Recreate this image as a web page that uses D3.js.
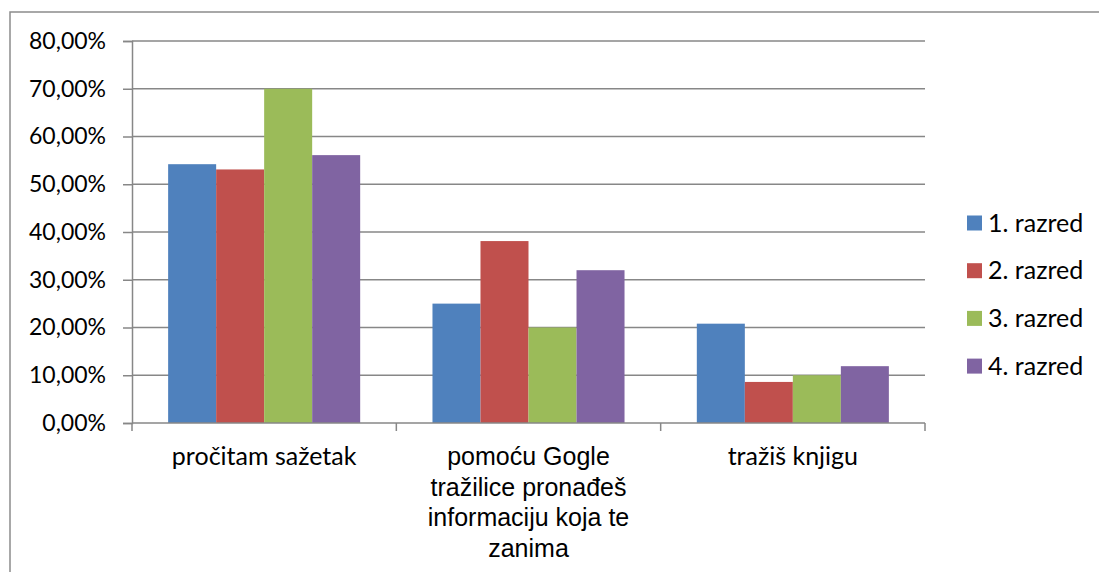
<!DOCTYPE html>
<html>
<head>
<meta charset="utf-8">
<script src="https://cdn.jsdelivr.net/npm/d3@7"></script>
<style>
  body { margin: 0; background: #fff; }
  svg { display: block; }
</style>
</head>
<body>
<svg id="chart" width="1099" height="572"></svg>
<script>
"use strict"

// podaci
const categories = ["pročitam sažetak", "pomoću Gogle tražilice pronađeš informaciju koja te zanima", "tražiš knjigu"];
const categoryLines = [
    ["pročitam sažetak"],
    ["pomoću Gogle", "tražilice pronađeš", "informaciju koja te", "zanima"],
    ["tražiš knjigu"]
];
const seriesNames = ["1. razred", "2. razred", "3. razred", "4. razred"];
const seriesColors = ["#4F81BD", "#C0504D", "#9BBB59", "#8064A2"];
const razred1 = [0.542, 0.25, 0.208];
const razred2 = [0.531, 0.381, 0.086];
const razred3 = [0.70, 0.20, 0.10];
const razred4 = [0.561, 0.32, 0.119];
const yTicks = [0, 0.1, 0.2, 0.3, 0.4, 0.5, 0.6, 0.7, 0.8];

const allSeries = [razred1, razred2, razred3, razred4];

const svg = d3.select("#chart");
const plot = { left: 132, right: 925, top: 41, bottom: 423 };
const calibri = "Lato, Carlito, sans-serif";
const arial = "Liberation Sans, Arial, sans-serif";

// okvir
svg.append("rect")
    .attr("x", 10).attr("y", 12)
    .attr("width", 1200).attr("height", 700)
    .attr("fill", "#fff")
    .attr("stroke", "#8c8c8c")
    .attr("stroke-width", 1.5);

const x0 = d3.scaleBand()
    .domain(categories)
    .range([plot.left, plot.right])
    .paddingInner(0.2735)
    .paddingOuter(0.1367);

const x = d3.scaleBand()
    .domain(seriesNames)
    .range([0, x0.bandwidth()]);

const y = d3.scaleLinear()
    .domain([0, 0.8])
    .range([plot.bottom, plot.top]);

// mreža
svg.append("g")
    .selectAll("line")
    .data(yTicks.slice(1))
    .join("line")
    .attr("x1", plot.left).attr("x2", plot.right)
    .attr("y1", d => y(d)).attr("y2", d => y(d))
    .attr("stroke", "#878787")
    .attr("stroke-width", 1.5);

// stupci
const groups = svg.append("g")
    .selectAll("g")
    .data(categories)
    .join("g")
    .attr("transform", d => "translate(" + x0(d) + ",0)");

groups.selectAll("rect")
    .data((c, i) => seriesNames.map((s, j) => ({ s: s, v: allSeries[j][i], c: seriesColors[j] })))
    .join("rect")
    .attr("x", d => x(d.s))
    .attr("width", x.bandwidth())
    .attr("y", d => y(d.v))
    .attr("height", d => y(0) - y(d.v))
    .attr("fill", d => d.c);

// y os
const fmt = v => d3.format(".2f")(v * 100).replace(".", ",") + "%";
const yAxis = svg.append("g")
    .attr("transform", "translate(" + plot.left + ",0)")
    .call(d3.axisLeft(y).tickValues(yTicks).tickFormat(fmt).tickSize(9).tickPadding(17));
yAxis.select(".domain").attr("stroke", "#878787").attr("stroke-width", 1.5);
yAxis.selectAll(".tick line").attr("stroke", "#878787").attr("stroke-width", 1.5);
yAxis.selectAll("text")
    .attr("font-family", calibri)
    .attr("font-size", 23)
    .attr("fill", "#000");

// x os
svg.append("line")
    .attr("x1", plot.left).attr("x2", plot.right)
    .attr("y1", plot.bottom).attr("y2", plot.bottom)
    .attr("stroke", "#878787").attr("stroke-width", 1.5);

const step = (plot.right - plot.left) / categories.length;
svg.append("g")
    .selectAll("line")
    .data(d3.range(categories.length + 1))
    .join("line")
    .attr("x1", i => plot.left + i * step).attr("x2", i => plot.left + i * step)
    .attr("y1", plot.bottom).attr("y2", plot.bottom + 8)
    .attr("stroke", "#878787").attr("stroke-width", 1.5);

const labels = svg.append("g")
    .selectAll("text")
    .data(categories)
    .join("text")
    .attr("x", d => x0(d) + x0.bandwidth() / 2)
    .attr("y", 465)
    .attr("text-anchor", "middle")
    .style("font-family", (d, i) => i == 1 ? arial : calibri)
    .style("font-size", (d, i) => i == 1 ? "25px" : "25px")
    .attr("fill", "#000");

labels.selectAll("tspan")
    .data((d, i) => categoryLines[i])
    .join("tspan")
    .attr("x", function () { return d3.select(this.parentNode).attr("x"); })
    .attr("dy", (d, i) => i == 0 ? 0 : 30.5)
    .text(d => d);

// legenda
const legend = svg.append("g")
    .selectAll("g")
    .data(seriesNames)
    .join("g")
    .attr("transform", (d, i) => "translate(967," + (223 + i * 47.7) + ")");

legend.append("rect")
    .attr("x", 0).attr("y", -7.5)
    .attr("width", 15).attr("height", 15)
    .attr("fill", (d, i) => seriesColors[i]);

legend.append("text")
    .attr("x", 21).attr("y", 0)
    .attr("dy", "0.35em")
    .attr("font-family", calibri)
    .attr("font-size", 25)
    .attr("fill", "#000")
    .text(d => d);
</script>
</body>
</html>
